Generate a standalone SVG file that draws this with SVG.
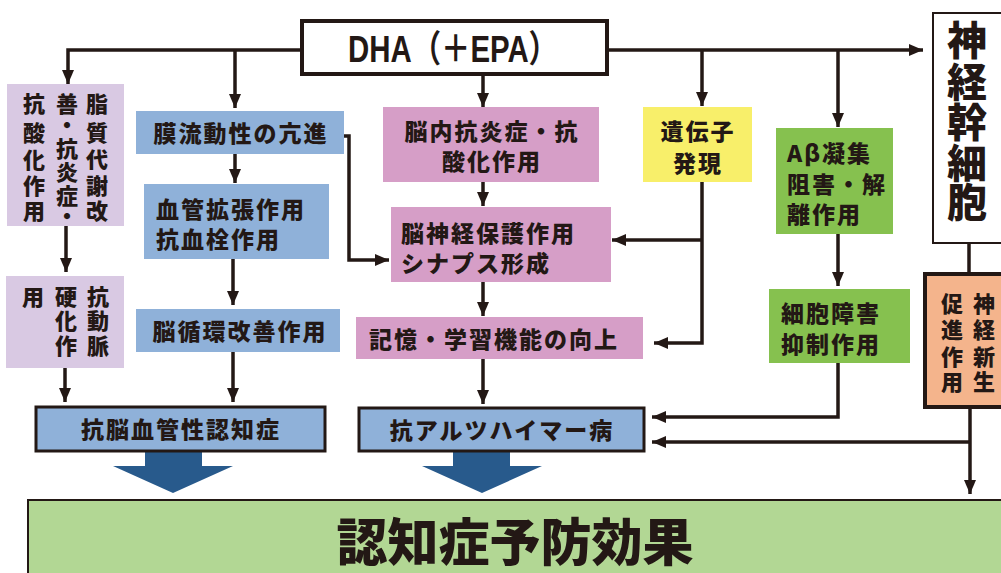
<svg xmlns="http://www.w3.org/2000/svg" width="1001" height="573" viewBox="0 0 1001 573">
<style>
text{font-family:"Noto Sans CJK JP","Noto Sans CJK SC",sans-serif;font-weight:900;fill:#231815;}
.t{font-size:23px;letter-spacing:2px;}
.v{font-size:22px;text-anchor:middle;dominant-baseline:central;}
.c{text-anchor:middle;dominant-baseline:central;}
.conn{fill:none;stroke:#231815;stroke-width:3.5;}
.lav{fill:#d9c9e3;}
.blu{fill:#8fb1d9;}
.pnk{fill:#d69ec7;}
.grn{fill:#86c14f;}
</style>
<defs>
<marker id="ah" viewBox="0 0 14 12" refX="14" refY="6" markerWidth="14" markerHeight="12" markerUnits="userSpaceOnUse" orient="auto">
<path d="M0,0 L14,6 L0,12 z" fill="#231815"/>
</marker>
</defs>
<rect width="1001" height="573" fill="#ffffff"/>

<g id="connectors">
<path class="conn" d="M300,50 H68 V84" marker-end="url(#ah)"/>
<path class="conn" d="M235,50 V108" marker-end="url(#ah)"/>
<path class="conn" d="M483,75 V107" marker-end="url(#ah)"/>
<path class="conn" d="M608,50 H923" marker-end="url(#ah)"/>
<path class="conn" d="M702,50 V106" marker-end="url(#ah)"/>
<path class="conn" d="M838,50 V127" marker-end="url(#ah)"/>
<path class="conn" d="M66,226 V272" marker-end="url(#ah)"/>
<path class="conn" d="M65,368 V402" marker-end="url(#ah)"/>
<path class="conn" d="M235,154 V183" marker-end="url(#ah)"/>
<path class="conn" d="M233,259 V305" marker-end="url(#ah)"/>
<path class="conn" d="M233,352 V402" marker-end="url(#ah)"/>
<path class="conn" d="M344,136 H349 V260 H389" marker-end="url(#ah)"/>
<path class="conn" d="M483,182 V206" marker-end="url(#ah)"/>
<path class="conn" d="M483,282 V316" marker-end="url(#ah)"/>
<path class="conn" d="M483,359 V404" marker-end="url(#ah)"/>
<path class="conn" d="M702,182 V343 H654" marker-end="url(#ah)"/>
<path class="conn" d="M702,240 H612" marker-end="url(#ah)"/>
<path class="conn" d="M838,234 V286" marker-end="url(#ah)"/>
<path class="conn" d="M838,363 V417 H652" marker-end="url(#ah)"/>
<path class="conn" d="M969,243 V272"/>
<path class="conn" d="M970,408 V494" marker-end="url(#ah)"/>
<path class="conn" d="M970,442 H652" marker-end="url(#ah)"/>
<path d="M145,451 H202 V466 H233 L173,493 L113,466 H145 Z" fill="#285a8c"/>
<path d="M453,451 H510 V466 H542 L482,493 L422,466 H453 Z" fill="#285a8c"/>
</g>

<g id="dha">
<rect x="302" y="21" width="305" height="53" fill="#ffffff" stroke="#231815" stroke-width="4"/>
<text x="453" y="49" class="c" font-size="37" textLength="210" lengthAdjust="spacingAndGlyphs" style="font-family:'Liberation Sans','Noto Sans CJK JP',sans-serif;font-weight:bold">DHA（＋EPA）</text>
</g>

<g id="lipid">
<rect class="lav" x="7" y="84" width="117" height="142"/>
<text class="v"><tspan x="97" y="102">脂</tspan><tspan x="97" y="131">質</tspan><tspan x="97" y="158">代</tspan><tspan x="97" y="184">謝</tspan><tspan x="97" y="209">改</tspan></text>
<text class="v"><tspan x="67" y="102">善</tspan><tspan x="67" y="123">・</tspan><tspan x="67" y="147">抗</tspan><tspan x="67" y="170">炎</tspan><tspan x="67" y="194">症</tspan><tspan x="67" y="214">・</tspan></text>
<text class="v"><tspan x="34" y="102">抗</tspan><tspan x="34" y="131">酸</tspan><tspan x="34" y="158">化</tspan><tspan x="34" y="184">作</tspan><tspan x="34" y="209">用</tspan></text>
</g>

<g id="arterio">
<rect class="lav" x="6" y="276" width="118" height="92"/>
<text class="v"><tspan x="98" y="295">抗</tspan><tspan x="98" y="319">動</tspan><tspan x="98" y="344">脈</tspan></text>
<text class="v"><tspan x="66" y="295">硬</tspan><tspan x="66" y="319">化</tspan><tspan x="66" y="344">作</tspan></text>
<text class="v"><tspan x="33" y="295">用</tspan></text>
</g>

<g id="membrane">
<rect class="blu" x="136" y="111" width="208" height="43"/>
<text class="t c" x="241" y="132">膜流動性の亢進</text>
</g>

<g id="vaso">
<rect class="blu" x="144" y="184" width="185" height="75"/>
<text class="t" x="156" y="208" dominant-baseline="central">血管拡張作用</text>
<text class="t" x="156" y="238" dominant-baseline="central">抗血栓作用</text>
</g>

<g id="circ">
<rect class="blu" x="136" y="309" width="204" height="43"/>
<text class="t c" x="240" y="330">脳循環改善作用</text>
</g>

<g id="antivasc">
<rect class="blu" x="36" y="407" width="289" height="44" stroke="#231815" stroke-width="3"/>
<text class="t c" x="181" y="428">抗脳血管性認知症</text>
</g>

<g id="antiinflam">
<rect class="pnk" x="383" y="107" width="216" height="75"/>
<text class="t c" x="492" y="130">脳内抗炎症・抗</text>
<text class="t c" x="492" y="160">酸化作用</text>
</g>

<g id="neuroprot">
<rect class="pnk" x="391" y="207" width="220" height="75"/>
<text class="t" x="401" y="232" dominant-baseline="central">脳神経保護作用</text>
<text class="t" x="401" y="262" dominant-baseline="central">シナプス形成</text>
</g>

<g id="memory">
<rect class="pnk" x="356" y="317" width="287" height="42"/>
<text class="t c" x="494" y="338">記憶・学習機能の向上</text>
</g>

<g id="antialz">
<rect class="blu" x="359" y="408" width="285" height="43" stroke="#231815" stroke-width="3"/>
<text class="t c" x="502" y="429">抗アルツハイマー病</text>
</g>

<g id="gene">
<rect x="643" y="107" width="109" height="75" fill="#f8ef6a"/>
<text class="t c" x="698" y="130">遺伝子</text>
<text class="t c" x="698" y="162">発現</text>
</g>

<g id="abeta">
<rect class="grn" x="776" y="128" width="117" height="106"/>
<text class="t" x="787" y="152" dominant-baseline="central">Aβ凝集</text>
<text class="t" x="787" y="183" dominant-baseline="central">阻害・解</text>
<text class="t" x="787" y="213" dominant-baseline="central">離作用</text>
</g>

<g id="cellprot">
<rect class="grn" x="769" y="289" width="141" height="74"/>
<text class="t" x="781" y="312" dominant-baseline="central">細胞障害</text>
<text class="t" x="781" y="343" dominant-baseline="central">抑制作用</text>
</g>

<g id="stemcell">
<rect x="933" y="13" width="72" height="230" fill="#ffffff" stroke="#231815" stroke-width="2"/>
<text class="c" font-size="40"><tspan x="967" y="38">神</tspan><tspan x="967" y="80">経</tspan><tspan x="967" y="120">幹</tspan><tspan x="967" y="161">細</tspan><tspan x="967" y="200">胞</tspan></text>
</g>

<g id="neurogenesis">
<rect x="925" y="274" width="80" height="133" fill="#f4b48c" stroke="#231815" stroke-width="4"/>
<text class="v"><tspan x="984" y="302">神</tspan><tspan x="984" y="328">経</tspan><tspan x="984" y="355">新</tspan><tspan x="984" y="380">生</tspan></text>
<text class="v"><tspan x="952" y="302">促</tspan><tspan x="952" y="328">進</tspan><tspan x="952" y="355">作</tspan><tspan x="952" y="380">用</tspan></text>
</g>

<g id="prevention">
<rect x="28" y="500" width="980" height="80" fill="#b2d794" stroke="#231815" stroke-width="2"/>
<text class="c" x="515" y="539" font-size="51">認知症予防効果</text>
</g>
</svg>
